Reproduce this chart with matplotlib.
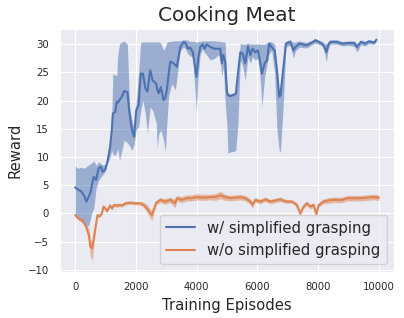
import numpy as np
import matplotlib
matplotlib.use("Agg")
import matplotlib.pyplot as plt
import seaborn as sns

# w/ simplified grasping (mean reward and spread)
ep_w = [0, 100, 200, 300, 370, 450, 500, 560, 610, 690, 770, 850, 900, 990, 1060,
        1150, 1210, 1240, 1320, 1370, 1400, 1460, 1540, 1610, 1720, 1790, 1870, 1940,
        2010, 2090, 2160, 2230, 2310, 2380, 2470, 2550, 2670, 2700, 2750, 2820, 2910,
        2970, 3020, 3075, 3130, 3185, 3240, 3300, 3350, 3380, 3460, 3570, 3650, 3710,
        3790, 3870, 3930, 3990, 4060, 4120, 4200, 4260, 4330, 4450, 4590, 4720, 4780,
        4830, 4880, 4940, 5000, 5030, 5100, 5220, 5290, 5360, 5440, 5520, 5600, 5690,
        5770, 5840, 5930, 6020, 6100, 6150, 6240, 6320, 6390, 6470, 6570, 6645, 6720,
        6760, 6860, 6940, 7080, 7190, 7250, 7390, 7610, 7800, 7910, 8130, 8200, 8270,
        8330, 8400, 8620, 8790, 9010, 9190, 9280, 9410, 9555, 9665, 9775, 9850, 9920]
mean_w = [4.6, 4.2, 3.9, 3.1, 2.1, 3.0, 3.6, 5.2, 6.5, 5.9, 8.0, 8.3, 7.4, 7.8, 9.1,
          11.8, 15.0, 17.7, 18.0, 19.8, 19.6, 20.1, 20.7, 21.7, 21.5, 17.7, 14.8, 13.6,
          18.3, 19.2, 24.8, 24.8, 22.2, 21.6, 25.4, 23.6, 23.0, 22.0, 21.3, 22.4, 20.1,
          20.5, 21.9, 24.5, 26.9, 26.8, 26.6, 26.3, 26.0, 27.0, 29.5, 30.4, 30.1, 29.2,
          29.4, 28.6, 26.6, 24.2, 27.8, 29.5, 30.0, 29.2, 30.0, 29.5, 29.2, 29.2, 29.2,
          26.6, 28.1, 26.9, 21.5, 21.0, 20.8, 21.0, 21.2, 24.8, 28.6, 28.3, 26.6, 29.6,
          28.1, 29.2, 28.6, 28.9, 26.6, 24.8, 26.6, 27.2, 30.1, 29.5, 28.9, 25.4, 20.7,
          20.9, 26.0, 30.1, 30.4, 28.9, 29.5, 30.1, 29.8, 30.3, 30.7, 30.1, 29.6, 28.6,
          29.8, 30.4, 30.4, 30.1, 30.2, 30.2, 29.5, 30.4, 30.1, 30.5, 30.4, 30.3, 30.8]
lo_w = [-0.3, -0.8, -1.5, -2.0, -2.3, -2.1, -1.0, 0.3, 0.8, 4.5, 5.8, 6.5, 6.8, 7.4, 8.8,
        10.0, 11.2, 10.5, 10.3, 11.0, 11.5, 9.4, 11.2, 13.0, 12.5, 12.0, 11.2, 12.2,
        14.8, 15.4, 18.3, 20.0, 17.7, 14.2, 18.9, 18.3, 16.0, 11.5, 14.0, 14.8, 13.0,
        10.9, 16.0, 20.7, 21.9, 23.0, 22.5, 21.9, 24.0, 25.4, 28.9, 29.5, 29.0, 28.3,
        27.9, 27.8, 23.0, 18.3, 24.8, 28.3, 29.2, 28.5, 28.1, 27.2, 27.5, 28.1, 27.0,
        24.2, 26.0, 19.8, 15.4, 10.6, 10.9, 11.0, 11.2, 16.0, 27.2, 26.0, 23.6, 27.8,
        26.6, 27.8, 27.2, 27.5, 23.6, 18.9, 24.2, 26.5, 28.3, 28.9, 24.8, 14.8, 11.2,
        10.9, 20.0, 29.5, 29.8, 27.5, 28.8, 29.5, 29.3, 29.9, 30.2, 29.7, 28.8, 26.9,
        29.0, 30.0, 30.0, 29.7, 29.8, 29.6, 28.6, 29.9, 29.7, 30.1, 30.0, 30.0, 30.5]
hi_w = [8.4, 8.0, 8.2, 8.0, 8.3, 8.6, 8.8, 9.0, 9.4, 8.5, 9.2, 8.8, 8.6, 8.7, 9.6,
        12.5, 18.3, 24.8, 24.5, 24.5, 28.0, 30.1, 30.4, 30.6, 30.0, 19.0, 16.5, 15.0,
        20.0, 25.0, 30.4, 30.4, 30.4, 30.4, 30.4, 30.4, 30.4, 30.4, 30.4, 30.2, 28.9,
        29.5, 30.3, 30.5, 30.5, 30.5, 30.6, 30.6, 30.6, 30.6, 30.6, 30.8, 30.8, 30.7,
        30.5, 30.5, 30.5, 30.3, 30.5, 30.5, 30.6, 30.6, 30.6, 30.6, 30.6, 30.5, 30.5,
        30.4, 30.4, 30.4, 22.0, 21.4, 21.2, 21.4, 21.6, 25.2, 30.2, 30.0, 30.0, 30.2,
        30.0, 30.1, 30.0, 30.1, 30.0, 30.0, 30.0, 30.2, 30.5, 30.4, 30.0, 26.0, 21.2,
        21.4, 26.6, 30.6, 30.8, 30.3, 30.4, 30.6, 30.3, 30.7, 31.0, 30.5, 30.2, 30.0,
        30.5, 30.8, 30.8, 30.5, 30.6, 30.6, 30.1, 30.8, 30.5, 30.8, 30.7, 30.6, 31.0]

# w/o simplified grasping
ep_wo = [0, 80, 165, 250, 360, 450, 500, 560, 620, 690, 735, 800, 880, 930, 990, 1045,
         1150, 1210, 1280, 1370, 1480, 1540, 1650, 1810, 1980, 2140, 2250, 2360, 2470,
         2530, 2600, 2670, 2800, 2960, 3130, 3290, 3350, 3510, 3680, 3840, 4010, 4200,
         4450, 4610, 4780, 4940, 5110, 5270, 5440, 5600, 5770, 5830, 5930, 6100, 6260,
         6430, 6590, 6760, 6930, 7140, 7300, 7410, 7520, 7630, 7740, 7850, 7940, 8020,
         8180, 8350, 8510, 8790, 8960, 9170, 9390, 9610, 9800, 10000]
mean_wo = [-0.3, -0.8, -1.1, -1.2, -2.4, -3.8, -5.9, -6.2, -4.1, -1.8, -0.3, -0.5, 0.0,
           1.2, 0.9, 0.4, 1.4, 0.9, 1.5, 1.4, 1.5, 1.4, 1.8, 1.9, 1.8, 1.8, 1.5, 0.9,
           0.0, -0.3, 0.9, 1.9, 2.4, 2.1, 2.4, 1.8, 2.7, 2.4, 2.7, 2.7, 2.9, 2.8, 2.9,
           2.9, 3.2, 2.9, 2.7, 2.8, 2.9, 2.7, 2.1, 1.5, 2.4, 2.1, 2.5, 2.1, 2.3, 2.5,
           2.1, 2.1, 1.5, 0.0, 1.2, 1.8, 1.2, 1.5, -0.1, 1.5, 2.1, 2.3, 2.4, 2.4, 2.7,
           2.7, 2.7, 2.8, 2.9, 2.8]
lo_wo = [-0.6, -1.1, -1.4, -1.6, -2.9, -5.0, -7.5, -8.4, -5.5, -2.4, -0.6, -0.8, -0.3,
         0.9, 0.6, 0.1, 1.1, 0.6, 1.2, 1.1, 1.2, 1.1, 1.5, 1.6, 1.5, 1.5, 1.1, 0.3,
         -0.8, -1.3, 0.4, 1.5, 1.9, 1.6, 1.9, 1.0, 2.2, 1.9, 2.2, 2.2, 2.4, 2.3, 2.4,
         2.3, 2.6, 2.3, 2.2, 2.3, 2.4, 2.2, 1.6, 0.9, 2.0, 1.7, 2.1, 1.7, 1.9, 2.1,
         1.8, 1.8, 1.1, -0.4, 0.8, 1.4, 0.8, 1.1, -0.5, 1.1, 1.7, 1.8, 1.9, 1.9, 2.2,
         2.2, 2.2, 2.3, 2.4, 2.3]
hi_wo = [0.0, -0.5, -0.8, -0.9, -2.0, -2.6, -4.6, -5.0, -3.2, -1.4, 0.0, -0.2, 0.3,
         1.5, 1.2, 0.7, 1.7, 1.2, 1.8, 1.7, 1.8, 1.7, 2.1, 2.2, 2.1, 2.1, 2.0, 1.6,
         0.8, 0.5, 1.4, 2.3, 2.8, 2.6, 2.9, 2.5, 3.2, 3.0, 3.3, 3.3, 3.5, 3.4, 3.4,
         3.5, 3.9, 3.4, 3.2, 3.3, 3.4, 3.2, 2.6, 2.0, 2.8, 2.5, 2.9, 2.5, 2.7, 2.9,
         2.5, 2.4, 1.9, 0.4, 1.6, 2.2, 1.6, 1.9, 0.3, 1.9, 2.6, 2.8, 2.9, 2.9, 3.2,
         3.2, 3.2, 3.3, 3.4, 3.3]

sns.set_style("darkgrid")
plt.rcParams['font.family'] = ['DejaVu Sans']
plt.rcParams['text.color'] = '#262626'
plt.rcParams['axes.labelcolor'] = '#262626'

fig = plt.figure(figsize=(4.04, 3.18), dpi=100)
ax = fig.add_axes([60/404, 1 - 271.5/318, 334/404, 242.5/318])

c_w, c_wo = sns.color_palette("deep")[0], sns.color_palette("deep")[1]
ax.fill_between(ep_w, lo_w, hi_w, color=c_w, alpha=0.5, lw=0)
ax.plot(ep_w, mean_w, color=c_w, lw=1.5, label="w/ simplified grasping")
ax.fill_between(ep_wo, lo_wo, hi_wo, color=c_wo, alpha=0.5, lw=0)
ax.plot(ep_wo, mean_wo, color=c_wo, lw=1.5, label="w/o simplified grasping")

ax.set_xlim(-500, 10500)
ax.set_ylim(-10.3, 32.7)
ax.set_xticks([0, 2000, 4000, 6000, 8000, 10000])
ax.set_yticks([-10, -5, 0, 5, 10, 15, 20, 25, 30])
ax.tick_params(labelsize=7.3, length=0, pad=7.8, colors='#262626')
ax.set_title("Cooking Meat", fontsize=14.4)
ax.set_xlabel("Training Episodes", fontsize=10.6)
ax.set_ylabel("Reward", fontsize=10.6)
ax.legend(loc="lower right", fontsize=10.7)

fig.savefig("out.png", dpi=100)
